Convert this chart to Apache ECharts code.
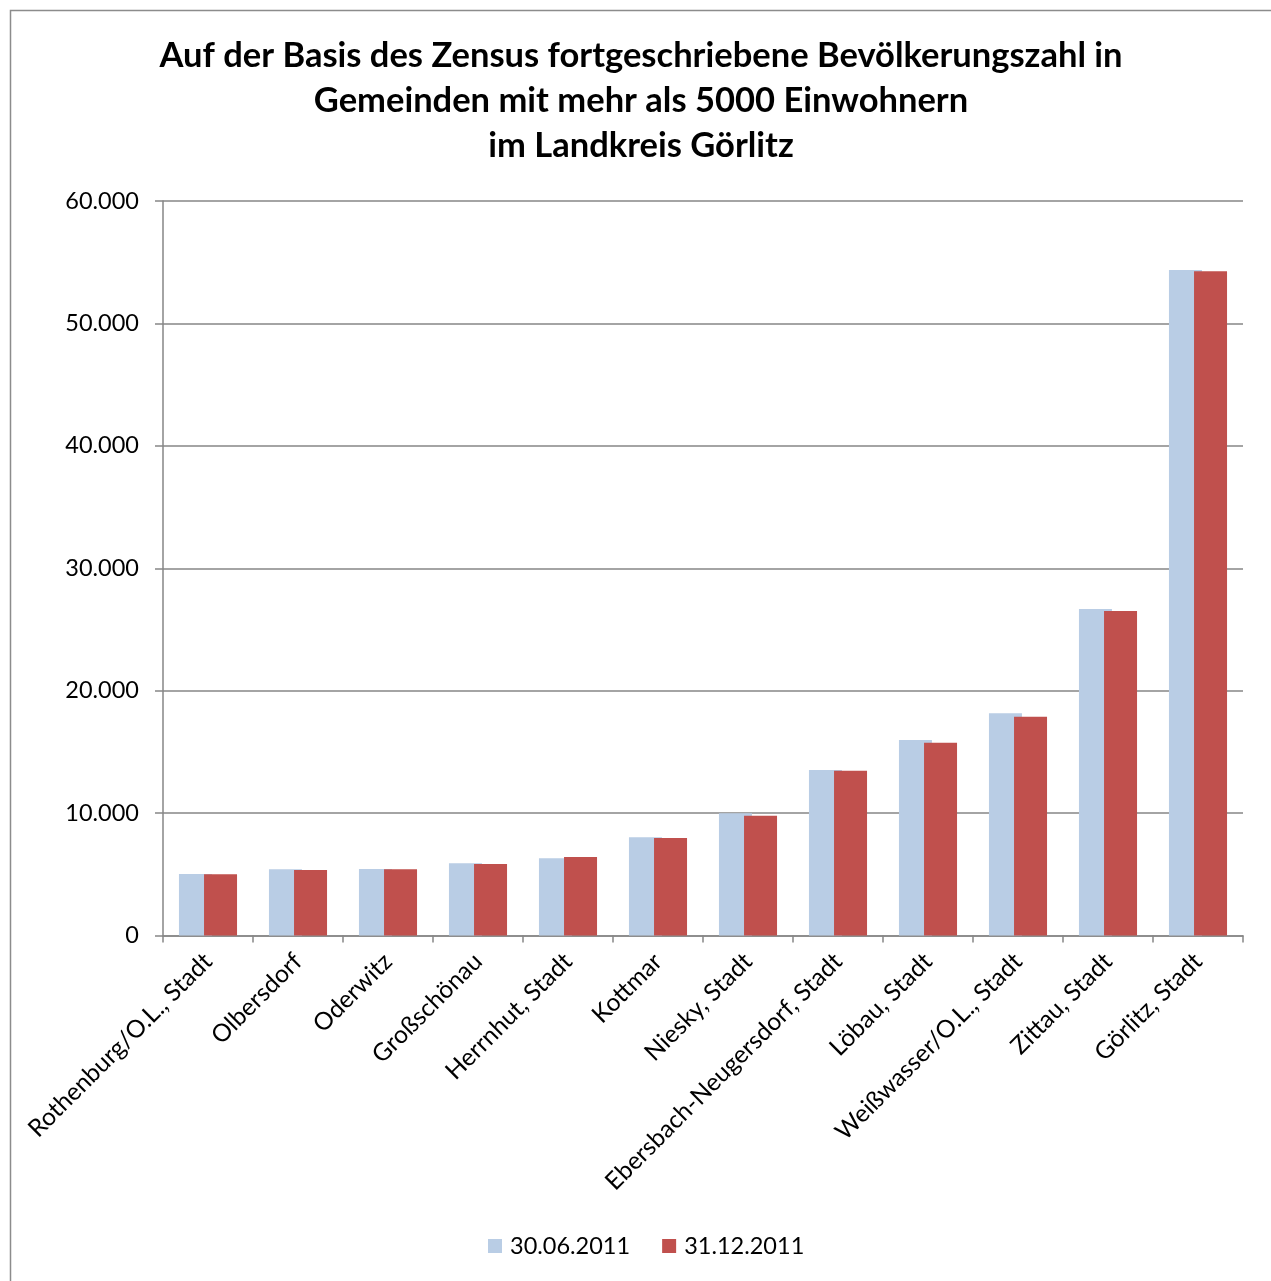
<!DOCTYPE html>
<html><head><meta charset="utf-8">
<script src="https://cdn.jsdelivr.net/npm/echarts@6/dist/echarts.min.js"></script>
<style>html,body{margin:0;padding:0;background:#fff}#c{width:1271px;height:1281px}</style>
</head><body><div id="c"></div>
<script>
const categories = ["Rothenburg/O.L., Stadt","Olbersdorf","Oderwitz","Großschönau","Herrnhut, Stadt","Kottmar","Niesky, Stadt","Ebersbach-Neugersdorf, Stadt","Löbau, Stadt","Weißwasser/O.L., Stadt","Zittau, Stadt","Görlitz, Stadt"];
const series1Name = "30.06.2011";
const series1 = [5025, 5408, 5433, 5899, 6307, 8023, 9984, 13521, 15972, 18154, 26675, 54370];
const series2Name = "31.12.2011";
const series2 = [5000, 5351, 5408, 5841, 6413, 7966, 9788, 13464, 15752, 17876, 26511, 54264];
const titleText = "Auf der Basis des Zensus fortgeschriebene Bevölkerungszahl in\nGemeinden mit mehr als 5000 Einwohnern\nim Landkreis Görlitz";

const fmt = v => String(v).replace(/\B(?=(\d{3})+(?!\d))/g, ".");
const font = "Lato, 'Open Sans', sans-serif";
const chart = echarts.init(document.getElementById('c'));
chart.setOption({
  animation: false,
  backgroundColor: '#fff',
  textStyle: {fontFamily: font},
  graphic: [{type:'rect', shape:{x:10.5, y:10.5, width:1275, height:1290}, style:{fill:'none', stroke:'#8c8c8c', lineWidth:1.5}, silent:true}],
  title: {text: titleText, left: 636, top: 28, textAlign: 'center',
    textStyle: {fontSize: 34.5, fontWeight: 'bold', color: '#000', lineHeight: 45, fontFamily: font}},
  legend: {bottom: 18, left: 483, itemWidth: 14, itemHeight: 14, itemGap: 32,
    icon: 'rect', textStyle: {fontSize: 23.5, color: '#000', fontFamily: font, padding: [0, 0, 0, 3]}},
  grid: {left: 163, right: 28, top: 201, bottom: 345.5, containLabel: false},
  xAxis: {type: 'category', data: categories,
    axisLine: {lineStyle: {color: '#868686', width: 1.5}},
    axisTick: {show: true, length: 7, lineStyle: {color: '#868686', width: 1.5}},
    axisLabel: {rotate: 45, fontSize: 24.5, color: '#000', interval: 0, margin: 22, fontFamily: font}},
  yAxis: {type: 'value', min: 0, max: 60000, interval: 10000,
    axisLine: {show: true, lineStyle: {color: '#868686', width: 1.5}},
    axisTick: {show: true, length: 8, lineStyle: {color: '#868686', width: 1.5}},
    splitLine: {lineStyle: {color: '#868686', width: 1.5}},
    axisLabel: {fontSize: 23.5, color: '#000', margin: 24, formatter: fmt, fontFamily: font}},
  series: [
    {name: series1Name, type: 'bar', data: series1, barWidth: 33, barGap: '-24%',
     itemStyle: {color: '#b9cde5'}},
    {name: series2Name, type: 'bar', data: series2, barWidth: 33, barGap: '-24%',
     itemStyle: {color: '#c0504d'}}
  ]
});
</script></body></html>
